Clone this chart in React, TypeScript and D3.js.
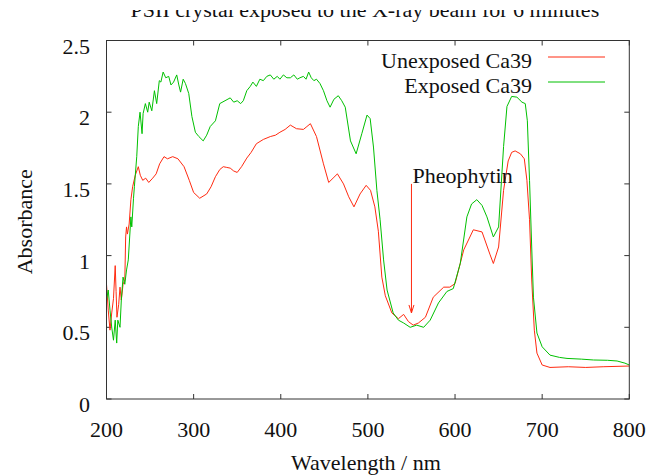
import React from 'react';
import * as d3 from 'd3';

const titleText = 'PSII crystal exposed to the X-ray beam for 6 minutes';
const xLabel = 'Wavelength / nm';
const yLabel = 'Absorbance';
const seriesNames = ['Unexposed Ca39', 'Exposed Ca39'];
const seriesColors = ['#ff2a10', '#00c000'];
const xTicks = [200, 300, 400, 500, 600, 700, 800];
const yTicks = [0, 0.5, 1, 1.5, 2, 2.5];
const yTickLabels = ['0', '0.5', '1', '1.5', '2', '2.5'];
const annotationText = 'Pheophytin';
const annotationWavelength = 550;
const annotationFrom = 1.5;
const annotationTo = 0.6;

const unexposedWavelength = [
  200, 202, 204, 206, 208, 210, 211, 212, 214, 215.5, 217, 219, 221, 222, 223, 224, 226, 228, 230, 233,
  236.5, 238.8, 241.6, 245, 248.5, 253, 257, 261, 266, 270, 276, 282, 289, 295, 300, 307, 315, 320, 325,
  330, 334, 338, 342, 346, 350, 355, 361, 366, 372, 380, 388, 394, 399, 405, 411, 418, 426, 430, 434, 441,
  449, 455, 460, 465, 472, 478, 484, 491, 498, 503, 508, 512, 516, 520, 527.5, 535, 541, 546.5, 552, 558,
  566, 575, 587, 594, 600, 610, 621, 631, 640, 644, 650, 655.7, 661, 665, 669, 675, 679.5, 682.5, 685.5,
  688, 691, 694, 700, 709, 730, 750, 770, 800,
];
const unexposedAbsorbance = [
  0.8, 0.62, 0.48, 0.6, 0.7, 0.93, 0.75, 0.57, 0.66, 0.78, 0.69, 0.8, 0.83, 1.13, 1.2, 1.15, 1.22, 1.39, 1.48, 1.56,
  1.62, 1.56, 1.525, 1.54, 1.51, 1.54, 1.57, 1.64, 1.69, 1.675, 1.69, 1.675, 1.62, 1.525, 1.44, 1.4, 1.43, 1.48, 1.55,
  1.6, 1.62, 1.615, 1.61, 1.59, 1.58, 1.62, 1.68, 1.72, 1.78, 1.81, 1.83, 1.84, 1.86, 1.88, 1.91, 1.885, 1.88, 1.9, 1.92, 1.83,
  1.64, 1.51, 1.54, 1.57, 1.5, 1.41, 1.34, 1.43, 1.49, 1.455, 1.34, 1.17, 0.85, 0.72, 0.6, 0.56, 0.59, 0.54, 0.515, 0.53,
  0.57, 0.71, 0.78, 0.78, 0.805, 1.04, 1.18, 1.165, 1.01, 0.945, 1.06, 1.455, 1.66, 1.72, 1.73, 1.71, 1.675, 1.525, 1.25,
  0.83, 0.48, 0.32, 0.237, 0.22, 0.225, 0.22, 0.225, 0.23,
];

const exposedWavelength = [
  200, 202, 204, 206, 208, 210, 211.7, 213, 215.5, 217, 219, 221, 223, 225, 228, 229, 231, 232, 234.7, 236.5,
  238.5, 240.8, 242, 244.6, 247.3, 249, 252, 255, 257.6, 260.6, 262.4, 265, 268, 271.4, 274, 277, 280.6, 283, 285,
  288, 290.6, 294.4, 298, 302, 306, 311, 315, 319, 325, 330, 336, 342, 346, 350, 354, 357, 361, 365, 368, 372,
  376, 380, 384, 388, 392, 396, 399, 403, 407, 411, 415, 419, 422, 426, 429, 432, 435, 438, 441, 445, 449, 453,
  456.6, 461, 466, 470, 474, 480, 486.5, 493, 499, 502.6, 506.4, 510.3, 514, 518, 522, 529, 535, 541, 548.5, 556,
  564, 571.5, 581, 590.7, 598, 606, 613.6, 619, 625, 631, 636.6, 644, 650, 655.7, 659.6, 665, 671, 676.8, 680.6,
  683, 685.5, 688, 690, 694, 700, 709, 720, 728.5, 745, 759, 775, 786, 795, 800,
];
const exposedAbsorbance = [
  0.69, 0.76, 0.62, 0.5, 0.41, 0.55, 0.39, 0.55, 0.5, 0.69, 0.85, 0.8, 0.9, 0.97, 1.27, 1.2, 1.4, 1.48, 1.69, 1.9,
  2.0, 1.85, 1.99, 2.06, 2.0, 2.07, 2.01, 2.15, 2.06, 2.22, 2.21, 2.28, 2.24, 2.25, 2.19, 2.21, 2.26, 2.19, 2.14,
  2.23, 2.2, 2.13, 1.97, 1.86, 1.83, 1.8, 1.84, 1.9, 1.94, 2.06, 2.08, 2.1, 2.07, 2.08, 2.06, 2.08, 2.15, 2.18, 2.21, 2.18,
  2.23, 2.22, 2.25, 2.26, 2.23, 2.25, 2.23, 2.26, 2.24, 2.24, 2.26, 2.23, 2.24, 2.25, 2.23, 2.28, 2.24, 2.22, 2.23, 2.2, 2.15, 2.08,
  2.035, 2.09, 2.115, 2.08, 2.035, 1.8, 1.71, 1.85, 1.98, 1.955, 1.757, 1.455, 1.25, 0.97, 0.76, 0.6, 0.55, 0.53, 0.5, 0.515,
  0.5, 0.55, 0.67, 0.75, 0.77, 0.945, 1.27, 1.36, 1.39, 1.35, 1.27, 1.13, 1.2, 1.76, 2.04, 2.11, 2.105, 2.07, 2.06,
  1.94, 1.525, 1.06, 0.71, 0.46, 0.364, 0.306, 0.29, 0.283, 0.278, 0.272, 0.27, 0.265, 0.25, 0.237,
];

const FONT = '"Liberation Serif", "DejaVu Serif", serif';

export default function App() {
  const W = 649;
  const H = 475;
  const left = 106.5;
  const right = 629.3;
  const top = 40.5;
  const bottom = 399;
  const x = d3.scaleLinear().domain([200, 800]).range([left, right]);
  const y = d3.scaleLinear().domain([0, 2.5]).range([bottom, top]);
  const line = d3
    .line<[number, number]>()
    .x((d) => x(d[0]))
    .y((d) => y(d[1]));

  const series = [
    { name: seriesNames[0], color: seriesColors[0], pts: unexposedWavelength.map((w, i) => [w, unexposedAbsorbance[i]] as [number, number]) },
    { name: seriesNames[1], color: seriesColors[1], pts: exposedWavelength.map((w, i) => [w, exposedAbsorbance[i]] as [number, number]) },
  ];

  const tick = 5;
  const axisColor = '#333';
  const ax = x(annotationWavelength);
  const ay0 = y(annotationFrom);
  const ay1 = y(annotationTo);

  return (
    <svg width={W} height={H} style={{ position: 'absolute', left: 0, top: 0, background: '#fff' }} fontFamily={FONT}>
      <defs>
        <clipPath id="plotclip">
          <rect x={left} y={top} width={right - left} height={bottom - top} />
        </clipPath>
        <clipPath id="titleclip">
          <rect x={0} y={10} width={W} height={H} />
        </clipPath>
      </defs>
      <rect x={0} y={0} width={W} height={H} fill="#fff" />
      <text x={(left + right) / 2 - 3} y={17} fontSize={22} textAnchor="middle" fill="#111" clipPath="url(#titleclip)">
        {titleText}
      </text>

      {/* ticks */}
      {xTicks.map((t) => (
        <g key={'x' + t}>
          <line x1={x(t)} x2={x(t)} y1={bottom} y2={bottom - tick} stroke={axisColor} />
          <line x1={x(t)} x2={x(t)} y1={top} y2={top + tick} stroke={axisColor} />
          <text x={x(t)} y={437} fontSize={22} textAnchor="middle" fill="#111">
            {t}
          </text>
        </g>
      ))}
      {yTicks.map((t, i) => (
        <g key={'y' + t}>
          <line x1={left} x2={left + tick} y1={y(t)} y2={y(t)} stroke={axisColor} />
          <line x1={right} x2={right - tick} y1={y(t)} y2={y(t)} stroke={axisColor} />
          <text x={90} y={y(t) + 13} fontSize={22} textAnchor="end" fill="#111">
            {yTickLabels[i]}
          </text>
        </g>
      ))}

      <g clipPath="url(#plotclip)">
        {series.map((s) => (
          <path key={s.name} d={line(s.pts) || ''} fill="none" stroke={s.color} strokeWidth={1} strokeLinejoin="round" />
        ))}
      </g>

      <rect x={left} y={top} width={right - left} height={bottom - top} fill="none" stroke={axisColor} strokeWidth={1} />

      {/* legend */}
      {series.map((s, i) => (
        <g key={'leg' + i}>
          <text x={532} y={68 + i * 25} fontSize={22} textAnchor="end" fill="#111">
            {s.name}
          </text>
          <line x1={548} x2={605} y1={57 + i * 25} y2={57 + i * 25} stroke={s.color} strokeWidth={1} />
        </g>
      ))}

      {/* annotation */}
      <text x={ax + 1} y={ay0 - 1} fontSize={22} fill="#111">
        {annotationText}
      </text>
      <line x1={ax} x2={ax} y1={ay0} y2={ay1} stroke={seriesColors[0]} strokeWidth={1} />
      <path d={`M${ax - 2.5},${ay1 - 8} L${ax},${ay1} L${ax + 2.5},${ay1 - 8}`} fill="none" stroke={seriesColors[0]} strokeWidth={1} />

      {/* axis labels */}
      <text x={(left + right) / 2 - 2} y={470} fontSize={22} textAnchor="middle" fill="#111">
        {xLabel}
      </text>
      <text transform={`translate(32, ${(top + bottom) / 2 + 2}) rotate(-90)`} fontSize={22} textAnchor="middle" fill="#111">
        {yLabel}
      </text>
    </svg>
  );
}
